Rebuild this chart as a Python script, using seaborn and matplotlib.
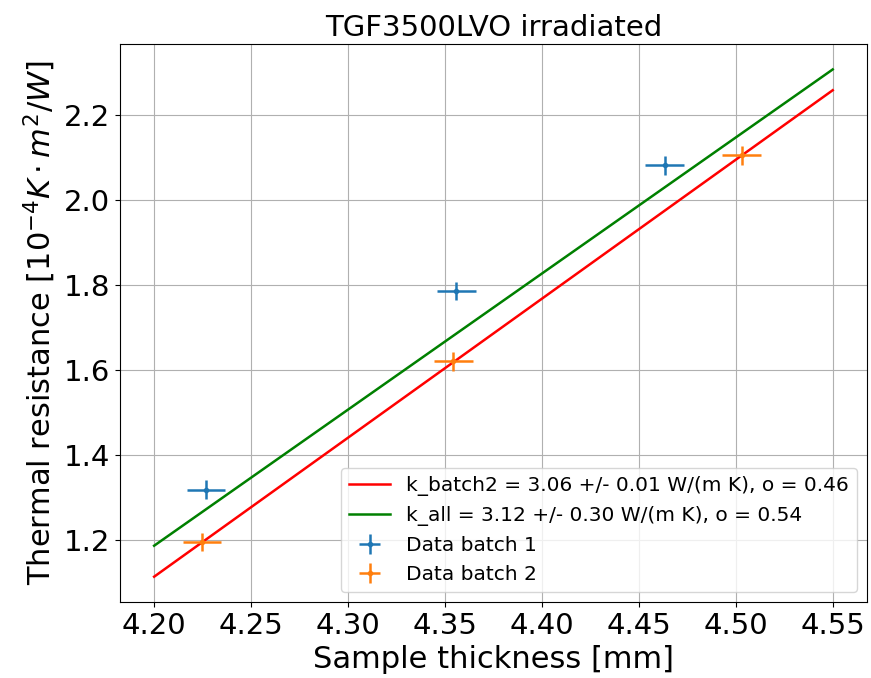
import numpy as np
import pandas as pd
import seaborn as sns
from matplotlib import pyplot as plt

# measured points
thick_b1 = [4.2267, 4.3558, 4.4634]
res_b1 = [1.318, 1.786, 2.082]
thick_b2 = [4.2247, 4.3544, 4.5030]
res_b2 = [1.195, 1.620, 2.106]
xerr_val = 0.01
yerr_val = 0.022

# fit lines (endpoints)
fit_x = [4.20, 4.55]
fit_batch2 = [1.113, 2.259]
fit_all = [1.186, 2.308]

label_batch2 = 'k_batch2 = 3.06 +/- 0.01 W/(m K), o = 0.46'
label_all = 'k_all = 3.12 +/- 0.30 W/(m K), o = 0.54'

df_fit = pd.DataFrame({'x': fit_x * 2,
                       'y': fit_batch2 + fit_all,
                       'fit': [label_batch2] * 2 + [label_all] * 2})

fig, ax = plt.subplots(figsize=(8.71, 6.78), dpi=100)
fig.subplots_adjust(left=0.138, right=0.995, top=0.935, bottom=0.112)

sns.lineplot(data=df_fit, x='x', y='y', hue='fit',
             palette={label_batch2: 'red', label_all: 'green'},
             linewidth=1.8, ax=ax)

ax.errorbar(thick_b1, res_b1, xerr=xerr_val, yerr=yerr_val, linestyle='none',
            marker='.', markersize=6, color='tab:blue', elinewidth=1.8,
            label='Data batch 1')
ax.errorbar(thick_b2, res_b2, xerr=xerr_val, yerr=yerr_val, linestyle='none',
            marker='.', markersize=6, color='tab:orange', elinewidth=1.8,
            label='Data batch 2')

ax.set_title('TGF3500LVO irradiated', fontsize=21)
ax.set_xlabel('Sample thickness [mm]', fontsize=22)
ax.set_ylabel(r'Thermal resistance [$10^{-4} K \cdot m^2/W$]', fontsize=22)
ax.tick_params(labelsize=21)
ax.set_xticks(np.arange(4.20, 4.551, 0.05))
ax.set_xticklabels([f'{t:.2f}' for t in np.arange(4.20, 4.551, 0.05)])
ax.grid(True)
ax.legend(loc='lower right', fontsize=14.5)

plt.savefig('out.png')
